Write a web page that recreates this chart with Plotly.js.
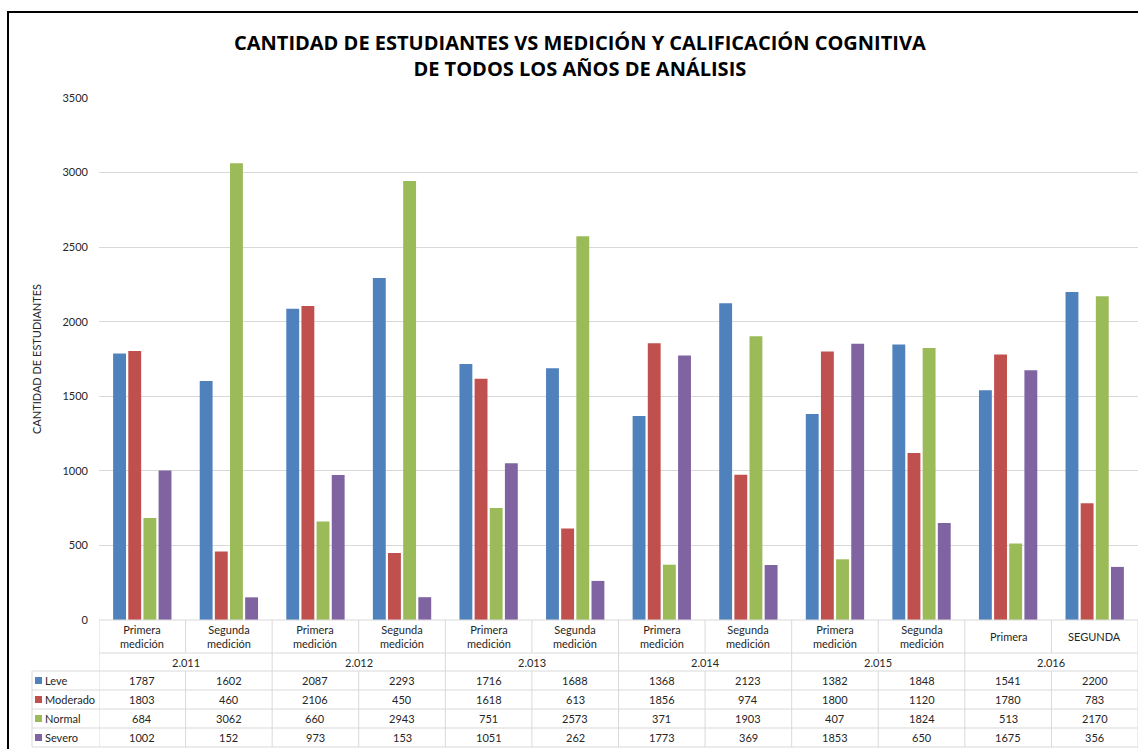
<!DOCTYPE html>
<html>
<head>
<meta charset="utf-8">
<script src="https://cdn.plot.ly/plotly-3.0.1.min.js"></script>
<style>
html,body{margin:0;padding:0;background:#fff;}
#chart{width:1138px;height:749px;}
</style>
</head>
<body>
<div id="chart"></div>
<script>
const years = ['2.011','2.012','2.013','2.014','2.015','2.016'];
const measureLabels = ['Primera<br>medición','Segunda<br>medición','Primera<br>medición','Segunda<br>medición','Primera<br>medición','Segunda<br>medición','Primera<br>medición','Segunda<br>medición','Primera<br>medición','Segunda<br>medición','Primera','SEGUNDA'];
const categories = ['2011-1','2011-2','2012-1','2012-2','2013-1','2013-2','2014-1','2014-2','2015-1','2015-2','2016-1','2016-2'];
const seriesNames = ['Leve','Moderado','Normal','Severo'];
const leve     = [1787,1602,2087,2293,1716,1688,1368,2123,1382,1848,1541,2200];
const moderado = [1803,460,2106,450,1618,613,1856,974,1800,1120,1780,783];
const normal   = [684,3062,660,2943,751,2573,371,1903,407,1824,513,2170];
const severo   = [1002,152,973,153,1051,262,1773,369,1853,650,1675,356];
const yTicks   = [0,500,1000,1500,2000,2500,3000,3500];

const seriesValues = [leve, moderado, normal, severo];
const colors = ['#4F81BD','#C0504D','#9BBB59','#8064A2'];

const traces = seriesNames.map((n,i)=>({
  type:'bar', name:n, x:categories, y:seriesValues[i],
  marker:{color:colors[i]}, hoverinfo:'x+y'
}));

// pixel -> paper conversion (plot area: x 99..1138, y 98..620)
const L=99, T=98, B=620, W=1138-L, H=B-T;
const px = p => (p-L)/W;
const py = p => (B-p)/H;

const gridCol = '#d9d9d9';
const txtCol = '#262626';
const fnt = 'Lato, "Open Sans", sans-serif';
const shapes = [];
const annotations = [];

// frame
shapes.push({type:'rect', xref:'paper', yref:'paper', x0:px(8), x1:px(1150), y0:py(12), y1:py(760), line:{color:'#000', width:2}, fillcolor:'rgba(0,0,0,0)', layer:'below'});

const rowLines = [671,690,709,728,747];
function hline(y, x0p){ shapes.push({type:'line', xref:'paper', yref:'paper', x0:x0p, x1:1.01, y0:py(y), y1:py(y), line:{color:gridCol,width:1}}); }
hline(620, 0);
hline(653, 0);
rowLines.forEach(y=>hline(y, px(32)));
// legend column left border
shapes.push({type:'line', xref:'paper', yref:'paper', x0:px(32), x1:px(32), y0:py(671), y1:py(747), line:{color:gridCol,width:1}});
// column boundaries
for(let k=0;k<=categories.length;k++){
  const xv = k-0.5;
  if(k%2===0){
    shapes.push({type:'line', xref:'x', yref:'paper', x0:xv, x1:xv, y0:py(620), y1:py(747), line:{color:gridCol,width:1}});
  } else {
    shapes.push({type:'line', xref:'x', yref:'paper', x0:xv, x1:xv, y0:py(620), y1:py(653), line:{color:gridCol,width:1}});
    shapes.push({type:'line', xref:'x', yref:'paper', x0:xv, x1:xv, y0:py(671), y1:py(747), line:{color:gridCol,width:1}});
  }
}
// header labels
measureLabels.forEach((lab,i)=>{
  annotations.push({xref:'x', yref:'paper', x:i, y:py(636.5), text:lab, showarrow:false, xanchor:'center', yanchor:'middle', font:{family:fnt,size:11,color:txtCol}});
});
years.forEach((yr,j)=>{
  annotations.push({xref:'x', yref:'paper', x:2*j+0.5, y:py(662), text:yr, showarrow:false, xanchor:'center', yanchor:'middle', font:{family:fnt,size:11,color:txtCol}});
});
// data rows
seriesNames.forEach((n,r)=>{
  const yc = (rowLines[r]+rowLines[r+1])/2;
  shapes.push({type:'rect', xref:'paper', yref:'paper', x0:px(35), x1:px(42), y0:py(yc-3.5), y1:py(yc+3.5), line:{width:0}, fillcolor:colors[r]});
  annotations.push({xref:'paper', yref:'paper', x:px(43), y:py(yc), text:n, showarrow:false, xanchor:'left', yanchor:'middle', font:{family:fnt,size:11,color:txtCol}});
  seriesValues[r].forEach((v,i)=>{
    annotations.push({xref:'x', yref:'paper', x:i, y:py(yc), text:String(v), showarrow:false, xanchor:'center', yanchor:'middle', font:{family:fnt,size:11,color:txtCol}});
  });
});
// title
annotations.push({xref:'paper', yref:'paper', x:px(580), y:py(56), text:'<b>CANTIDAD DE ESTUDIANTES VS MEDICIÓN Y CALIFICACIÓN COGNITIVA<br>DE TODOS LOS AÑOS DE ANÁLISIS</b>', showarrow:false, xanchor:'center', yanchor:'middle', font:{family:'"Open Sans", sans-serif', size:20, color:'#000'}});

const layout = {
  width:1138, height:749,
  margin:{l:L, r:0, t:T, b:749-B},
  paper_bgcolor:'#fff', plot_bgcolor:'#fff',
  showlegend:false,
  barmode:'group', bargap:0.3, bargroupgap:0.15,
  xaxis:{type:'category', showticklabels:false, ticks:'', showgrid:false, zeroline:false, showline:false, range:[-0.5, categories.length-0.5]},
  yaxis:{range:[0,3500], tickvals:yTicks, ticktext:yTicks.map(String), showgrid:true, gridcolor:gridCol, gridwidth:1, zeroline:false, showline:false, ticks:'', ticklabelstandoff:10,
    tickfont:{family:fnt,size:11,color:txtCol},
    title:{text:'CANTIDAD DE ESTUDIANTES', font:{family:fnt,size:11,color:txtCol}, standoff:18}},
  shapes:shapes, annotations:annotations
};
Plotly.newPlot('chart', traces, layout, {displayModeBar:false, staticPlot:true});
</script>
</body>
</html>
